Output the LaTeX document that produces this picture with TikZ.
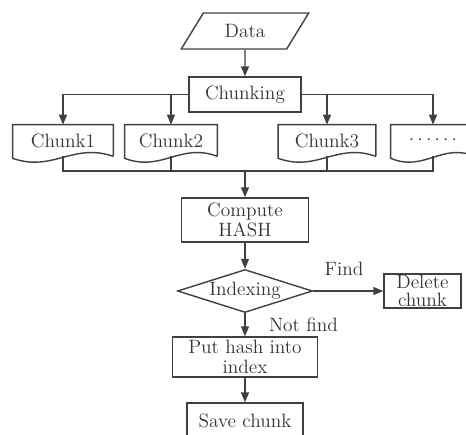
\documentclass[tikz,border=0pt]{standalone}
\usepackage{tikz}
\usetikzlibrary{shapes,shapes.geometric,arrows,arrows.meta,positioning,calc}

\begin{document}
\begin{tikzpicture}[x=0.02cm, y=0.02cm, >={Triangle[length=2mm, width=1.6mm]}]
  % styles
  \tikzstyle{box}=[rectangle, draw=black!75, line width=0.8pt, text=black!80, font=\fontsize{11}{11.4}\selectfont, align=center, inner sep=1pt];
  \tikzstyle{io}=[trapezium, trapezium left angle=61, trapezium right angle=119, trapezium stretches=true, draw=black!75, line width=0.8pt, text=black!80, font=\fontsize{11}{11.4}\selectfont, minimum width=2.56cm, minimum height=0.72cm];
  \tikzstyle{dec}=[diamond, aspect=3.1, inner sep=0pt, draw=black!75, line width=0.8pt, text=black!80, font=\fontsize{11}{11.4}\selectfont, minimum width=2.7cm, minimum height=0.86cm];
  \tikzstyle{doc}=[rectangle, text=black!80, font=\fontsize{11}{11.4}\selectfont, minimum height=0.62cm];
  \tikzstyle{wire}=[draw=black!75, line width=0.8pt];
  \tikzstyle{arr}=[wire, ->];
  \tikzstyle{lbl}=[text=black!80, font=\fontsize{11}{11.4}\selectfont];

  \useasboundingbox (0,0) rectangle (466,434);

  %==================== TOP: DATA AND CHUNKING ====================
  \node[io] (data) at (245,403) {Data};
  \node[box, minimum width=2.24cm, minimum height=0.7cm] (chunking) at (245,339.5) {Chunking};
  % chunks (document shapes drawn below)
  \node[doc, minimum width=2.0cm]  (c1) at (63,293.5)  {Chunk1};
  \node[doc, minimum width=1.84cm] (c2) at (171,293.5) {Chunk2};
  \node[doc, minimum width=1.94cm] (c3) at (327,293.5) {Chunk3};
  \node[doc, minimum width=1.68cm] (c4) at (433,293.5) {$\cdots\cdots$};
  \foreach \c in {c1,c2,c3,c4}{
    \draw[wire] (\c.south east) -- (\c.north east) -- (\c.north west) -- ($(\c.south west)+(0,-2)$)
      .. controls ($(\c.south west)!0.4!(\c.south east)+(0,-16)$) and ($(\c.south west)!0.6!(\c.south east)+(0,14)$) .. (\c.south east);
  }
  \coordinate (merge) at (245,263);

  %==================== BOTTOM: HASH AND INDEX ====================
  \node[box, minimum width=2.54cm, minimum height=0.88cm] (hash) at (245,214) {Compute\\HASH};
  \node[dec] (index) at (245,143) {Indexing};
  \node[box, minimum width=1.54cm, minimum height=0.68cm, inner sep=0pt, font=\fontsize{11}{10.6}\selectfont] (del) at (422.5,143) {Delete\\chunk};
  \node[box, minimum width=2.9cm, minimum height=0.8cm] (puthash) at (245,77) {Put hash into\\index};
  \node[box, minimum width=2.32cm, minimum height=0.72cm] (save) at (245,13) {Save chunk};

  % arrows
  \draw[arr] (data) -- (chunking);
  \draw[arr] (chunking.west) -| (c1.north);
  \draw[arr] (chunking.west) -| (c2.north);
  \draw[arr] (chunking.east) -| (c3.north);
  \draw[arr] (chunking.east) -| (c4.north);
  \draw[wire] (c1.south) |- (merge);
  \draw[wire] (c2.south) |- (merge);
  \draw[wire] (c3.south) |- (merge);
  \draw[wire] (c4.south) |- (merge);
  \draw[arr] (merge) -- (hash);
  \draw[arr] (hash) -- (index);
  \draw[arr] (index) -- node[lbl, above=0.18cm, pos=0.44] {Find} (del);
  \draw[arr] (index) -- node[lbl, right=0.35cm] {Not find} (puthash);
  \draw[arr] (puthash) -- (save);
\end{tikzpicture}
\end{document}
